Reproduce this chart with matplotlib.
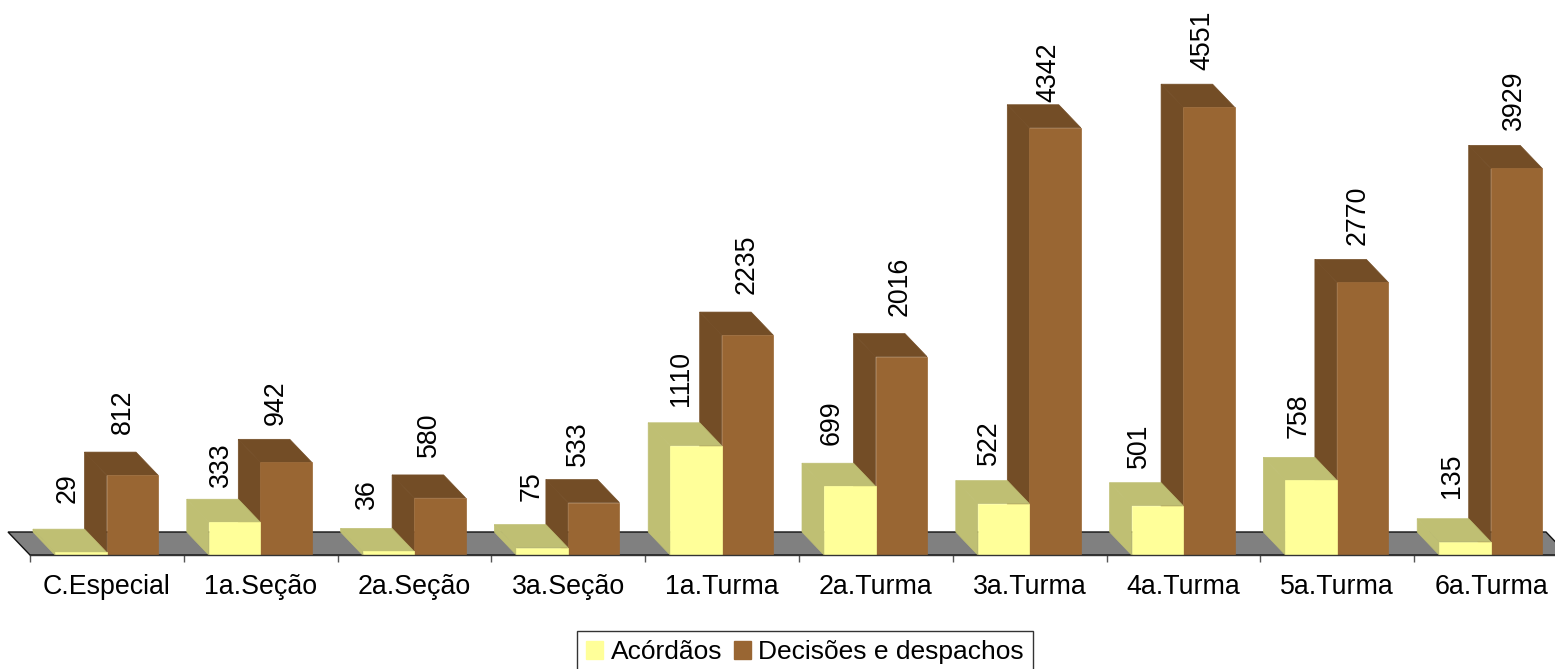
# Decisoes por orgao julgador - barras com efeito 3D
import matplotlib
matplotlib.use('Agg')
import matplotlib.pyplot as plt
from matplotlib.patches import Polygon, Patch

plt.rcParams['font.family'] = ['Liberation Sans', 'DejaVu Sans']

# dados
categorias = ['C.Especial', '1a.Seção', '2a.Seção', '3a.Seção', '1a.Turma',
              '2a.Turma', '3a.Turma', '4a.Turma', '5a.Turma', '6a.Turma']
acordaos = [29, 333, 36, 75, 1110, 699, 522, 501, 758, 135]
decisoes = [812, 942, 580, 533, 2235, 2016, 4342, 4551, 2770, 3929]

# ajuste fino dos rotulos, em pixels (dx a partir do inicio da categoria, folga acima da barra)
dx_acordaos = [38, 37, 29, 40, 36, 33, 36, 32, 38, 38]
dx_decisoes = [93, 92, 91, 87, 101, 101, 96, 96, 97, 100]
folga_acordaos = [26, 12, 19, 24, 17, 18, 16, 15, 19, 21]
folga_decisoes = [18, 14, 18, 14, 18, 18, 3, 14, 14, 15]

# escala: 153.8 px por categoria, 0.0984 px por unidade
PX_X = 153.8
PX_Y = 0.0984
X0 = 30
Y0 = 555
DX = -22 / PX_X  # profundidade
DY = 23 / PX_Y
LARG = 51.5 / PX_X
INI = 25 / PX_X
FONTE = 19.3

fig = plt.figure(figsize=(15.55, 6.69), dpi=100)
ax = fig.add_axes([0, 0, 1, 1])
ax.patch.set_alpha(0)


def barra(x, v, frente, lado, z):
    ax.add_patch(Polygon([(x, 0), (x + DX, DY), (x + DX, v + DY), (x, v)],
                         fc=lado, ec=lado, lw=0.5, zorder=z))
    ax.add_patch(Polygon([(x, v), (x + DX, v + DY), (x + LARG + DX, v + DY), (x + LARG, v)],
                         fc=lado, ec=lado, lw=0.5, zorder=z))
    ax.add_patch(Polygon([(x, 0), (x + LARG, 0), (x + LARG, v), (x, v)],
                         fc=frente, ec=frente, lw=0.5, zorder=z + 0.1))


# chao cinza
ax.add_patch(Polygon([(0, 0), (DX, DY), (10 + DX, DY), (10, 0)],
                     fc='#808080', ec='#111111', lw=1, zorder=1))

for i in range(len(categorias)):
    barra(i + INI + LARG, decisoes[i], '#996633', '#734D26', 2 + i)
    barra(i + INI, acordaos[i], '#FFFF99', '#BFBF73', 2.5 + i)
    ax.annotate(str(acordaos[i]), xy=(i, acordaos[i] + DY),
                xytext=(dx_acordaos[i], folga_acordaos[i]), textcoords='offset pixels',
                rotation=90, ha='center', va='bottom', fontsize=FONTE, zorder=30)
    ax.annotate(str(decisoes[i]), xy=(i, decisoes[i] + DY),
                xytext=(dx_decisoes[i], folga_decisoes[i]), textcoords='offset pixels',
                rotation=90, ha='center', va='bottom', fontsize=FONTE, zorder=30)

# eixo
for lado in ['top', 'left', 'right']:
    ax.spines[lado].set_visible(False)
ax.spines['bottom'].set_position(('data', 0))
ax.spines['bottom'].set_bounds(0, 10)
ax.spines['bottom'].set_color('#333333')
ax.spines['bottom'].set_linewidth(1)
ax.spines['bottom'].set_zorder(40)
ax.set_yticks([])
ax.set_xticks(range(10))
ax.set_xticklabels([])
ax.set_xticks([i + 0.5 for i in range(10)], minor=True)
ax.set_xticklabels(categorias, minor=True, fontsize=FONTE)
ax.tick_params(axis='x', which='major', length=5, width=1, color='#555555')
ax.tick_params(axis='x', which='minor', length=0, pad=14)

# limites depois dos ticks, senao set_xticks amplia a escala
ax.set_xlim(-X0 / PX_X, (1555 - X0) / PX_X)
ax.set_ylim(-(669 - Y0) / PX_Y, Y0 / PX_Y)

# legenda
handles = [Patch(fc='#FFFF99', ec='#FFFF99', label='Acórdãos'),
           Patch(fc='#996633', ec='#996633', label='Decisões e despachos')]
fig.legend(handles=handles, loc='upper left', bbox_to_anchor=(577 / 1555, 1 - 631 / 669),
           ncol=2, fontsize=19, frameon=True, fancybox=False, framealpha=1,
           edgecolor='#333333', borderpad=0.35, borderaxespad=0,
           handlelength=0.64, handleheight=0.64, handletextpad=0.28, columnspacing=0.45)

plt.savefig('out.png', dpi=100)
